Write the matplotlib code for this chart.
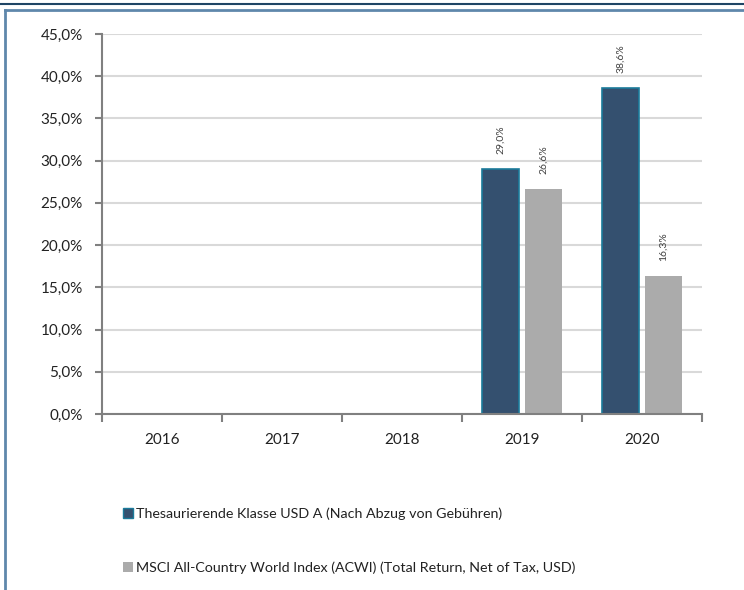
import matplotlib.pyplot as plt
import numpy as np
from matplotlib.lines import Line2D

years = ['2016', '2017', '2018', '2019', '2020']
fund = [None, None, None, 29.0, 38.6]
index = [None, None, None, 26.6, 16.3]
fund_label = 'Thesaurierende Klasse USD A (Nach Abzug von Gebühren)'
index_label = 'MSCI All-Country World Index (ACWI) (Total Return, Net of Tax, USD)'

plt.rcParams['font.family'] = ['Lato', 'DejaVu Sans']

fig = plt.figure(figsize=(7.44, 5.9), dpi=100)
ax = fig.add_axes([102 / 744, 1 - 414 / 590, 600 / 744, 380 / 590])

x = np.arange(len(years))
w = 0.31
off = 0.18
fx = [xi - off for xi, v in zip(x, fund) if v is not None]
fv = [v for v in fund if v is not None]
ix = [xi + off for xi, v in zip(x, index) if v is not None]
iv = [v for v in index if v is not None]

ax.bar(fx, fv, w, color='#34506f', edgecolor='#1b7b9b', linewidth=1.2, zorder=3)
ax.bar(ix, iv, w, color='#ababab', zorder=3)

for xs, vs in ((fx, fv), (ix, iv)):
    for xi, v in zip(xs, vs):
        ax.annotate(f'{v:.1f}%'.replace('.', ','), (xi, v), xytext=(0, 11),
                    textcoords='offset points', rotation=90, ha='center',
                    va='bottom', fontsize=7.5, color='#404040')

ax.set_xlim(-0.5, len(years) - 0.5)
ax.set_ylim(0, 45)
yt = np.arange(0, 46, 5)
ax.set_yticks(yt)
ax.set_yticklabels([f'{t:.1f}%'.replace('.', ',') for t in yt])
ax.set_xticks(x)
ax.set_xticklabels(years)
ax.set_xticks(np.arange(-0.5, len(years), 1), minor=True)
ax.tick_params(axis='x', which='major', length=0, pad=14)
ax.tick_params(axis='x', which='minor', length=6, width=1.5, color='#808080')
ax.tick_params(axis='y', length=5, width=1.5, color='#808080', pad=9)
ax.tick_params(labelsize=11, labelcolor='#222222')

ax.grid(axis='y', color='#d9d9d9', linewidth=1.5, zorder=0)
for s in ['top', 'right']:
    ax.spines[s].set_visible(False)
for s in ['left', 'bottom']:
    ax.spines[s].set_color('#808080')
    ax.spines[s].set_linewidth(1.5)
ax.spines['bottom'].set_zorder(4)

handles = [plt.Rectangle((0, 0), 1, 1, facecolor='#34506f', edgecolor='#1b7b9b', linewidth=1),
           plt.Rectangle((0, 0), 1, 1, facecolor='#ababab')]
fig.legend(handles, [fund_label, index_label], loc='upper left',
           bbox_to_anchor=(110 / 744, 1 - 495 / 590), frameon=False,
           handlelength=0.7, handleheight=0.7, handletextpad=0.2,
           labelspacing=2.9, fontsize=10.3, labelcolor='#222222')

# frame lines around the chart
fig.add_artist(Line2D([0, 1], [1 - 4 / 590, 1 - 4 / 590], color='#1f4565', linewidth=1.5))
fig.add_artist(Line2D([5 / 744, 1], [1 - 10 / 590, 1 - 10 / 590], color='#5f87ab', linewidth=2))
fig.add_artist(Line2D([5 / 744, 5 / 744], [0, 1 - 10 / 590], color='#5f87ab', linewidth=2))

fig.savefig('out.png', dpi=100)
